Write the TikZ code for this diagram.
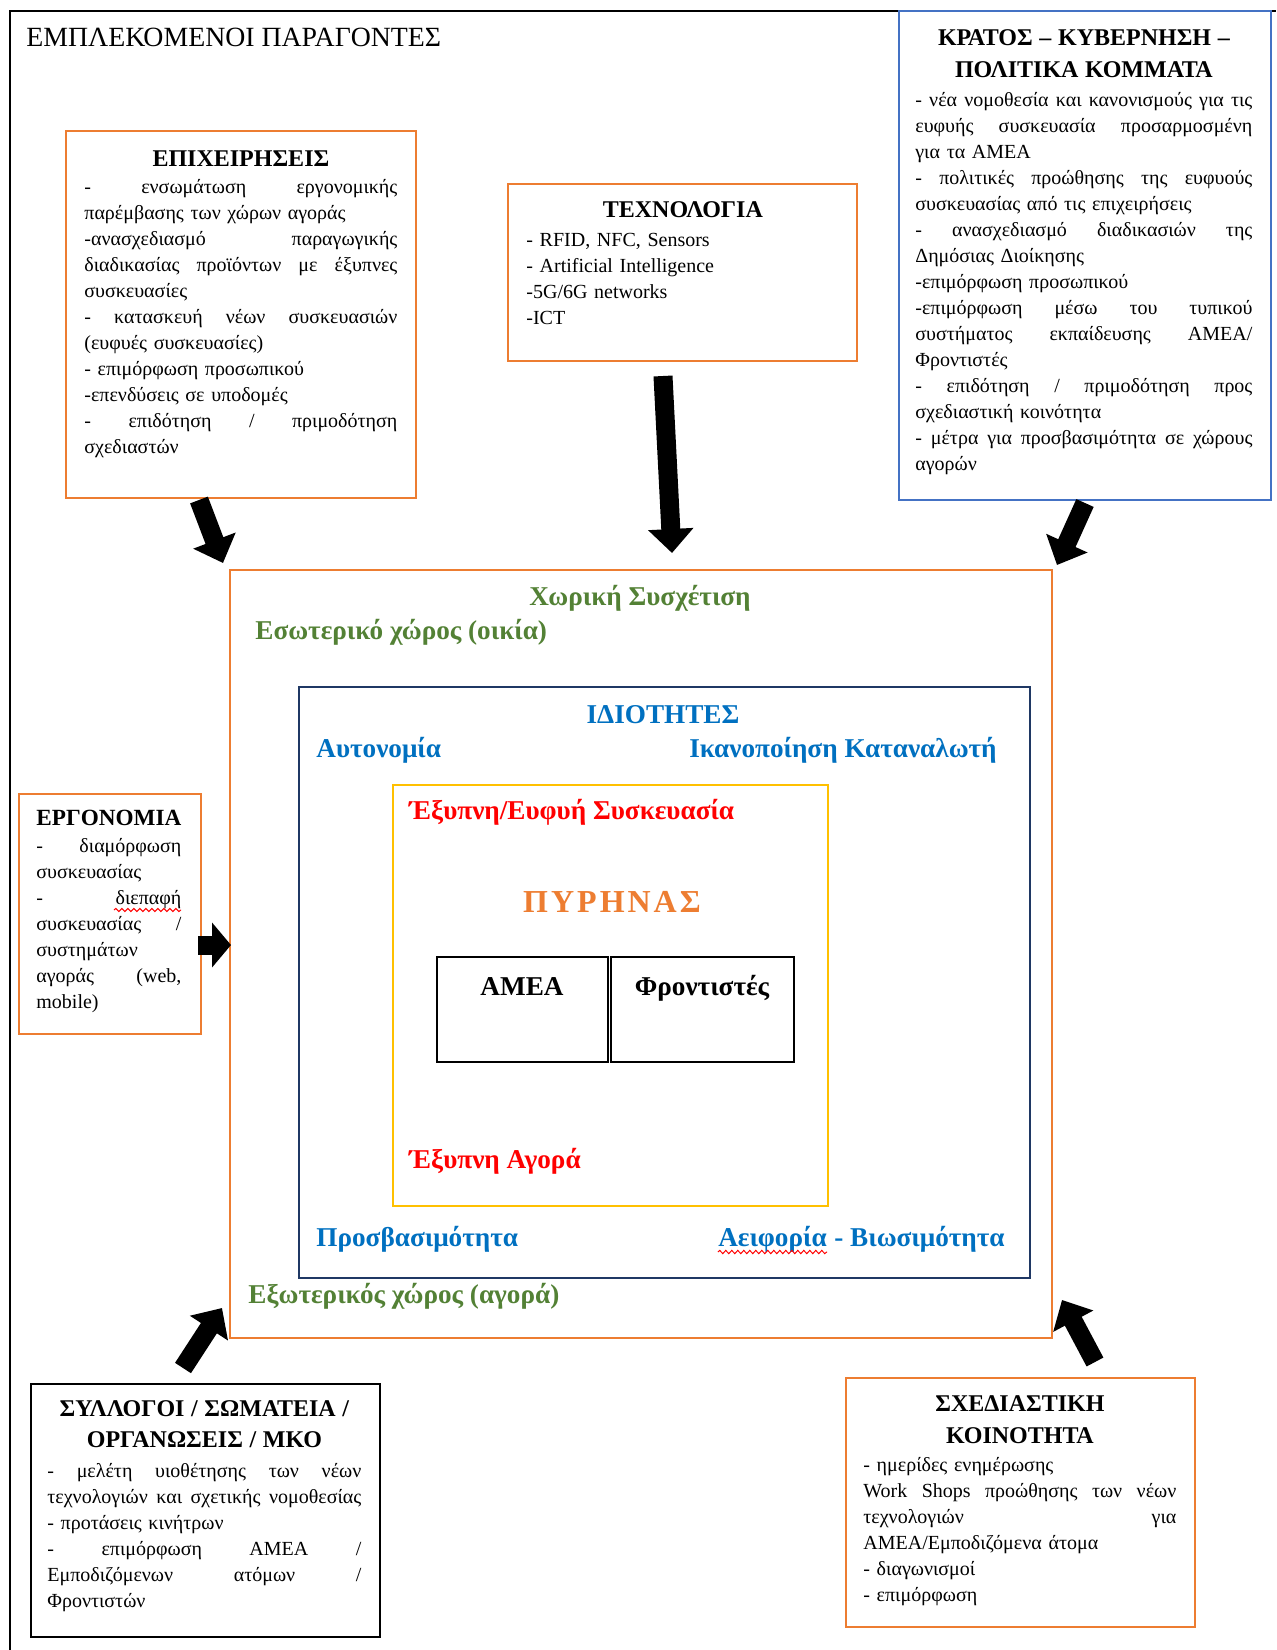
\documentclass[tikz,border=0pt]{standalone}
\usepackage{fontspec}
\setmainfont{Liberation Serif}
\usetikzlibrary{arrows.meta,fit,decorations.pathmorphing}

\definecolor{boxorange}{HTML}{ED7D31}
\definecolor{boxnavy}{HTML}{1F3864}
\definecolor{boxsky}{HTML}{4472C4}
\definecolor{boxyellow}{HTML}{FFC000}
\definecolor{lblgreen}{HTML}{538135}
\definecolor{lblblue}{HTML}{0070C0}
\definecolor{lblred}{HTML}{FF0000}
\definecolor{corecol}{HTML}{ED7D31}

% one typeset line: justified (words split by \hfill), left aligned, centred
\newcommand\J[1]{\makebox[\linewidth][s]{#1}}
\newcommand\Lf[1]{\makebox[\linewidth][l]{#1}}
\newcommand\Cn[1]{\makebox[\linewidth][c]{#1}}
\newcommand\hf{\fontsize{12}{13}\selectfont\bfseries}
\newcommand\topstrut{\rule{0pt}{10pt}}

\begin{document}
\begin{tikzpicture}[x=0.5pt,y=-0.5pt,
  frame/.style={draw, inner sep=0pt, line width=1pt},
  obox/.style={frame, draw=boxorange},
  body/.style={anchor=north west, inner sep=0pt, font=\fontsize{10}{13}\selectfont},
  lbl/.style={inner sep=0pt, font=\fontsize{13.6}{16}\selectfont\bfseries},
  blockarrow/.style={line width=9.5pt, -{Triangle[length=12pt,width=22pt]}},
  spell/.style={draw=lblred, line width=0.5pt, decorate,
    decoration={snake, amplitude=0.8pt, segment length=3pt}}
]
\useasboundingbox (0,0) rectangle (1276,1650);

% page frame (left and top edges)
\draw[line width=1pt] (10,1650) -- (10,11) -- (1276,11);
\node[anchor=base west, inner sep=0pt, font=\fontsize{13.9}{16}\selectfont] (title) at (26,46) {ΕΜΠΛΕΚΟΜΕΝΟΙ ΠΑΡΑΓΟΝΤΕΣ};

% ---------- outer actor boxes ----------
\node[obox, fit={(66,131) (416,498)}] (epix) {};
\node[body, text width=156.5pt] (epixtext) at (84,146) {%
\Cn{\topstrut\hf ΕΠΙΧΕΙΡΗΣΕΙΣ}\\[0.5pt]
\J{-\hfill ενσωμάτωση\hfill εργονομικής}\\
\Lf{παρέμβασης των χώρων αγοράς}\\
\J{-ανασχεδιασμό\hfill παραγωγικής}\\
\J{διαδικασίας\hfill προϊόντων\hfill με\hfill έξυπνες}\\
\Lf{συσκευασίες}\\
\J{-\hfill κατασκευή\hfill νέων\hfill συσκευασιών}\\
\Lf{(ευφυές συσκευασίες)}\\
\Lf{- επιμόρφωση προσωπικού}\\
\Lf{-επενδύσεις σε υποδομές}\\
\J{-\hfill επιδότηση\hfill /\hfill πριμοδότηση}\\
\Lf{σχεδιαστών}};

\node[obox, fit={(508,184) (857,361)}] (tech) {};
\node[body, text width=156.5pt] (techtext) at (526,197) {%
\Cn{\topstrut\hf ΤΕΧΝΟΛΟΓΙΑ}\\[1.5pt]
\Lf{- RFID, NFC, Sensors}\\
\Lf{- Artificial Intelligence}\\
\Lf{-5G/6G networks}\\
\Lf{-ICT}};

\node[frame, draw=boxsky, fit={(899,11) (1271,500)}] (kratos) {};
\node[body, text width=168.5pt] (kratostext) at (915,25) {%
\Cn{\topstrut\hf ΚΡΑΤΟΣ – ΚΥΒΕΡΝΗΣΗ –}\\[3pt]
\Cn{\hf ΠΟΛΙΤΙΚΑ ΚΟΜΜΑΤΑ}\\[1.5pt]
\J{-\hfill νέα\hfill νομοθεσία\hfill και\hfill κανονισμούς\hfill για\hfill τις}\\
\J{ευφυής\hfill συσκευασία\hfill προσαρμοσμένη}\\
\Lf{για τα ΑΜΕΑ}\\
\J{-\hfill πολιτικές\hfill προώθησης\hfill της\hfill ευφυούς}\\
\Lf{συσκευασίας από τις επιχειρήσεις}\\
\J{-\hfill ανασχεδιασμό\hfill διαδικασιών\hfill της}\\
\Lf{Δημόσιας Διοίκησης}\\
\Lf{-επιμόρφωση προσωπικού}\\
\J{-επιμόρφωση\hfill μέσω\hfill του\hfill τυπικού}\\
\J{συστήματος\hfill εκπαίδευσης\hfill ΑΜΕΑ/}\\
\Lf{Φροντιστές}\\
\J{-\hfill επιδότηση\hfill /\hfill πριμοδότηση\hfill προς}\\
\Lf{σχεδιαστική κοινότητα}\\
\J{-\hfill μέτρα\hfill για\hfill προσβασιμότητα\hfill σε\hfill χώρους}\\
\Lf{αγορών}};

\node[obox, fit={(19,794) (201,1034)}] (ergo) {};
\node[body, text width=72.5pt] (ergotext) at (36,805) {%
\Lf{\topstrut\fontsize{11.6}{13}\selectfont\bfseries ΕΡΓΟΝΟΜΙΑ}\\[0.5pt]
\J{-\hfill διαμόρφωση}\\
\Lf{συσκευασίας}\\
\J{-\hfill διεπαφή}\\
\J{συσκευασίας\hfill /}\\
\Lf{συστημάτων}\\
\J{αγοράς\hfill (web,}\\
\Lf{mobile)}};
\draw[spell] (114,910) -- (181,910);

\node[frame, draw=black, fit={(31,1384) (380,1637)}] (syll) {};
\node[body, text width=157pt] (sylltext) at (47,1396) {%
\Cn{\topstrut\hf ΣΥΛΛΟΓΟΙ / ΣΩΜΑΤΕΙΑ /}\\[2.5pt]
\Cn{\hf ΟΡΓΑΝΩΣΕΙΣ / ΜΚΟ}\\[2pt]
\J{-\hfill μελέτη\hfill υιοθέτησης\hfill των\hfill νέων}\\
\J{τεχνολογιών\hfill και\hfill σχετικής\hfill νομοθεσίας}\\
\Lf{- προτάσεις κινήτρων}\\
\J{-\hfill επιμόρφωση\hfill ΑΜΕΑ\hfill /}\\
\J{Εμποδιζόμενων\hfill ατόμων\hfill /}\\
\Lf{Φροντιστών}};

\node[obox, fit={(846,1378) (1195,1627)}] (sxed) {};
\node[body, text width=156.5pt] (sxedtext) at (863,1391) {%
\Cn{\topstrut\hf ΣΧΕΔΙΑΣΤΙΚΗ}\\[3pt]
\Cn{\hf ΚΟΙΝΟΤΗΤΑ}\\[1pt]
\Lf{- ημερίδες ενημέρωσης}\\
\J{Work\hfill Shops\hfill προώθησης\hfill των\hfill νέων}\\
\J{τεχνολογιών\hfill για}\\
\Lf{ΑΜΕΑ/Εμποδιζόμενα άτομα}\\
\Lf{- διαγωνισμοί}\\
\Lf{- επιμόρφωση}};

% ---------- nested central frames ----------
\node[obox, fit={(230,570) (1052,1338)}] (space) {};
\node[frame, draw=boxnavy, fit={(299,687) (1030,1278)}] (props) {};
\node[frame, draw=boxyellow, fit={(393,785) (828,1206)}] (core) {};
\node[frame, draw=black, line width=1.2pt, fit={(437,957) (608,1062)}] (amea) {};
\node[frame, draw=black, line width=1.2pt, fit={(611,957) (794,1062)}] (carers) {};

\node[lbl, text=lblgreen, anchor=base] (xoriki) at (640,605) {Χωρική Συσχέτιση};
\node[lbl, text=lblgreen, anchor=base west] (eswt) at (255,639) {Εσωτερικό χώρος (οικία)};
\node[lbl, text=lblblue, anchor=base] (idiot) at (663,723) {ΙΔΙΟΤΗΤΕΣ};
\node[lbl, text=lblblue, anchor=base west] (autonomia) at (316,757) {Αυτονομία};
\node[lbl, text=lblblue, anchor=base east] (ikanop) at (997,757) {Ικανοποίηση Καταναλωτή};
\node[lbl, text=lblred, anchor=base west] (syskev) at (409,819) {Έξυπνη/Ευφυή Συσκευασία};
\node[inner sep=0pt, font=\fontsize{16}{18}\selectfont\bfseries, text=corecol, anchor=base] (pyrinas) at (612,912)
  {Π\hspace{1.5pt}Υ\hspace{1.5pt}Ρ\hspace{1.5pt}Η\hspace{1.5pt}Ν\hspace{1.5pt}Α\hspace{1.5pt}Σ};
\node[lbl, anchor=base] (ameatext) at (522,995) {ΑΜΕΑ};
\node[lbl, anchor=base] (carerstext) at (702,995) {Φροντιστές};
\node[lbl, text=lblred, anchor=base west] (agora) at (409,1168) {Έξυπνη Αγορά};
\node[lbl, text=lblblue, anchor=base west] (prosv) at (316,1246) {Προσβασιμότητα};
\node[lbl, text=lblblue, anchor=base east] (viosim) at (1005,1246) {\ - Βιωσιμότητα};
\node[lbl, text=lblblue, anchor=base east] (aeif) at (viosim.base west) {Αειφορία};
\draw[spell] ([yshift=-3pt]aeif.base west) -- ([yshift=-3pt]aeif.base east);
\node[lbl, text=lblgreen, anchor=base west] (exwt) at (248,1303) {Εξωτερικός χώρος (αγορά)};

% ---------- block arrows towards the central frame ----------
\coordinate (a1s) at (199,500);  \coordinate (a1e) at (223,563);
\coordinate (a2s) at (663,376);  \coordinate (a2e) at (672,553);
\coordinate (a3s) at (1085,503); \coordinate (a3e) at (1057,565);
\coordinate (a4s) at (198,945);  \coordinate (a4e) at (231,945);
\coordinate (a5s) at (183,1368); \coordinate (a5e) at (222,1308);
\coordinate (a6s) at (1095,1362);\coordinate (a6e) at (1062,1300);
\draw[blockarrow] (a1s) -- (a1e);
\draw[blockarrow] (a2s) -- (a2e);
\draw[blockarrow] (a3s) -- (a3e);
\draw[line width=9.5pt, -{Triangle[length=9.5pt,width=22pt]}] (a4s) -- (a4e);
\draw[blockarrow] (a5s) -- (a5e);
\draw[blockarrow] (a6s) -- (a6e);
\end{tikzpicture}
\end{document}
